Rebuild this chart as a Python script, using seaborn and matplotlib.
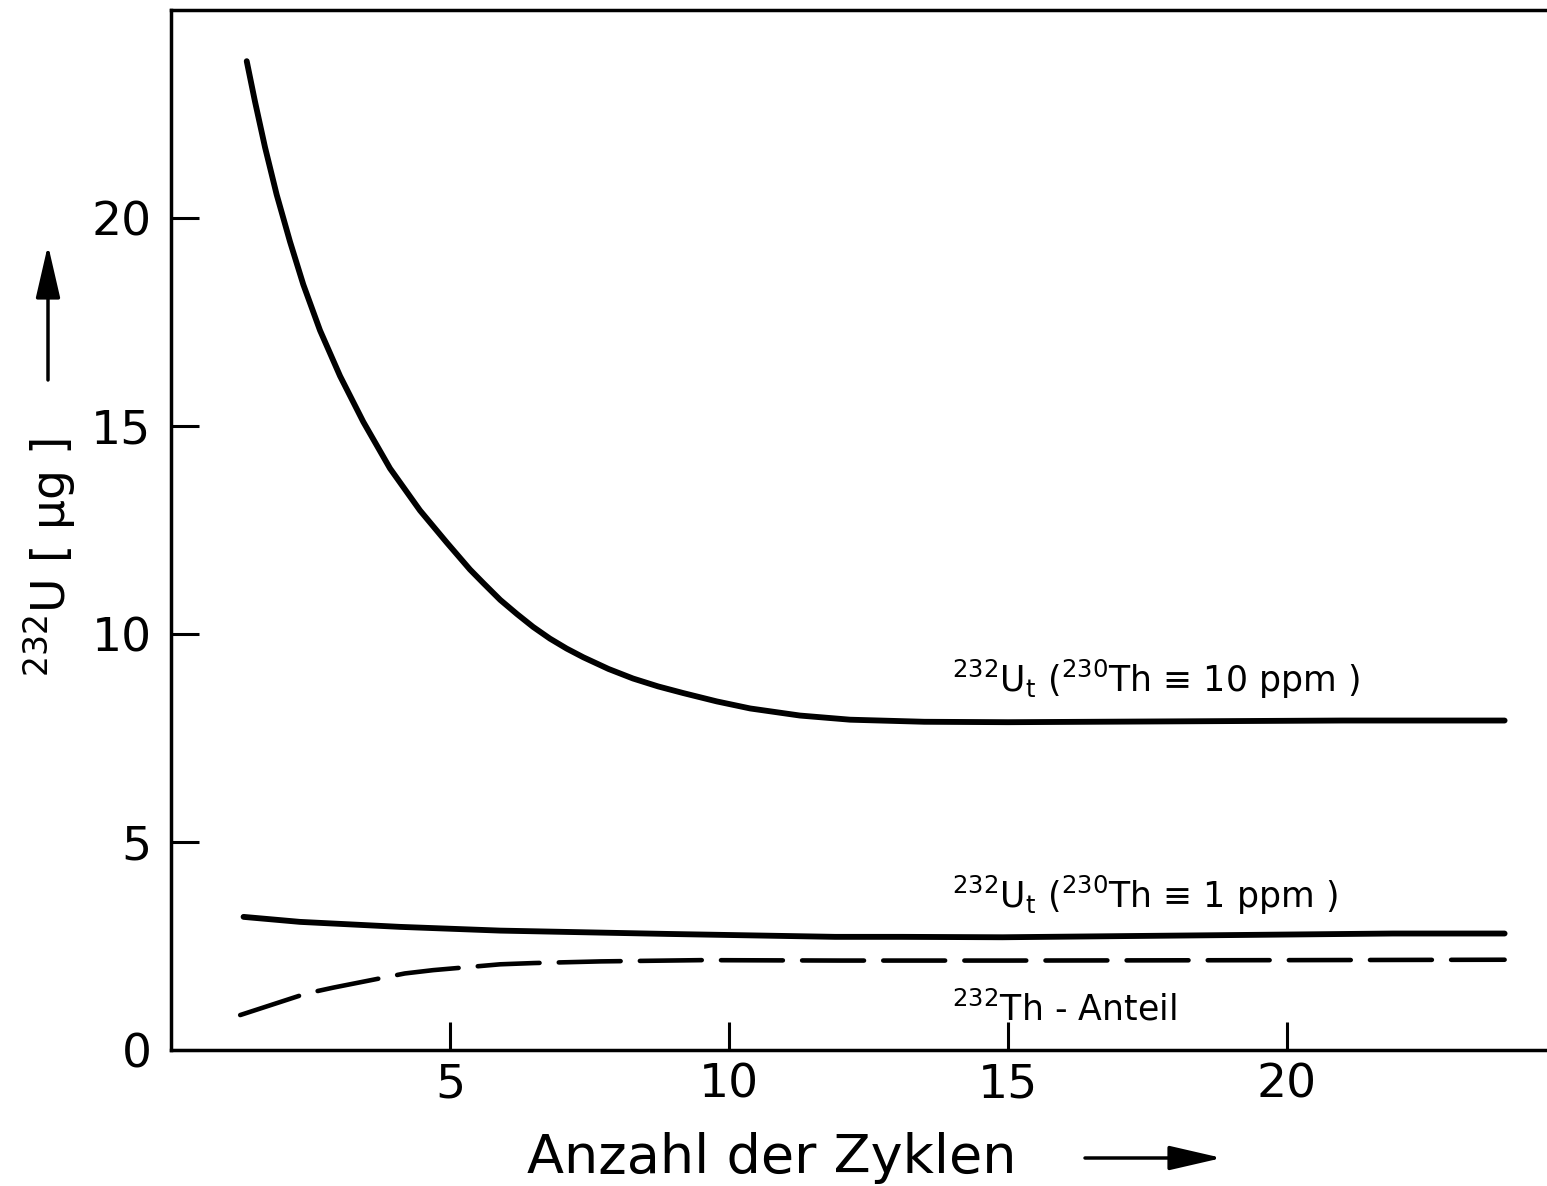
import matplotlib
matplotlib.use("Agg")
import matplotlib.pyplot as plt
import pandas as pd
import seaborn as sns

# curve: 232U_t for 230Th = 10 ppm
x_10ppm = [1.357, 1.505, 1.685, 1.894, 2.133, 2.371, 2.67, 3.03, 3.446, 3.925, 4.462,
           4.941, 5.358, 5.60, 5.90, 6.20, 6.49, 6.79, 7.09, 7.39, 7.84, 8.28, 8.73,
           9.18, 9.78, 10.38, 11.27, 12.17, 13.5, 15.0, 18.0, 21.0, 23.9]
y_10ppm = [23.77, 22.80, 21.70, 20.56, 19.43, 18.40, 17.30, 16.20, 15.10, 13.98, 12.97,
           12.20, 11.55, 11.22, 10.82, 10.48, 10.17, 9.89, 9.65, 9.44, 9.16, 8.93, 8.74,
           8.58, 8.38, 8.21, 8.04, 7.94, 7.89, 7.88, 7.90, 7.92, 7.92]

# 232U_t for 230Th = 1 ppm
x_1ppm = [1.30, 2.31, 4.10, 5.9, 8.9, 11.9, 13.1, 14.9, 18.0, 21.9, 23.9]
y_1ppm = [3.20, 3.08, 2.96, 2.87, 2.79, 2.72, 2.72, 2.71, 2.75, 2.80, 2.80]

# 232Th share (dashed)
x_th = [1.24, 2.43, 2.91, 4.19, 4.70, 5.9, 6.5, 7.7, 9.5, 12.0, 15.0, 20.0, 23.9]
y_th = [0.84, 1.36, 1.50, 1.84, 1.92, 2.06, 2.09, 2.13, 2.16, 2.15, 2.15, 2.16, 2.17]

x_ticks = [5, 10, 15, 20]
y_ticks = [0, 5, 10, 15, 20]

sns.set_style("ticks")
plt.rcParams['font.family'] = ['DejaVu Sans']
plt.rcParams['mathtext.fontset'] = 'dejavusans'
for key in ['text.color', 'axes.labelcolor', 'xtick.color', 'ytick.color']:
    plt.rcParams[key] = 'black'

W, H = 1547, 1186
fig = plt.figure(figsize=(W / 100, H / 100), dpi=100)
ax = fig.add_axes([171 / W, 1 - 1050 / H, (W - 171) / W, 1040 / H])

df_10 = pd.DataFrame({'x': x_10ppm, 'y': y_10ppm})
df_1 = pd.DataFrame({'x': x_1ppm, 'y': y_1ppm})
df_th = pd.DataFrame({'x': x_th, 'y': y_th})

sns.lineplot(data=df_10, x='x', y='y', ax=ax, color='black', linewidth=4.2,
             estimator=None, solid_capstyle='round', solid_joinstyle='round')
sns.lineplot(data=df_1, x='x', y='y', ax=ax, color='black', linewidth=4.2,
             estimator=None, solid_capstyle='round', solid_joinstyle='round')
sns.lineplot(data=df_th, x='x', y='y', ax=ax, color='black', linewidth=3.3,
             estimator=None, linestyle=(0, (13.5, 4.2)), dash_capstyle='round')

ax.set_xlim(0, (W - 171) / 55.8)
ax.set_ylim(0, 25)
ax.set_xticks(x_ticks)
ax.set_yticks(y_ticks)
ax.tick_params(direction='in', length=20, width=2.2, labelsize=34, color='black')
ax.tick_params(axis='y', pad=14)
ax.tick_params(axis='x', pad=9)
ax.spines['right'].set_visible(False)
for s in ['left', 'bottom', 'top']:
    ax.spines[s].set_linewidth(2.5)
    ax.spines[s].set_color('black')

ax.set_xlabel('Anzahl der Zyklen', fontsize=39, va='center')
ax.xaxis.set_label_coords((772 - 171) / (W - 171), (1050 - 1158) / 1040)
ax.set_ylabel(r'$^{232}$U [ µg ]', fontsize=34, va='center')
ax.yaxis.set_label_coords((50 - 171) / (W - 171), (1050 - 557) / 1040)

ax.text(14.0, 8.6, r'$^{232}$U$_\mathrm{t}$ ($^{230}$Th ≡ 10 ppm )', fontsize=25, va='baseline')
ax.text(14.0, 3.41, r'$^{232}$U$_\mathrm{t}$ ($^{230}$Th ≡ 1 ppm )', fontsize=25, va='baseline')
ax.text(14.0, 0.72, r'$^{232}$Th - Anteil', fontsize=25, va='baseline')

arrow = dict(arrowstyle='-|>,head_length=1.3,head_width=0.3', color='black',
             lw=2.5, mutation_scale=25, shrinkA=0, shrinkB=0)
fig.add_artist(matplotlib.patches.FancyArrowPatch(
    (1085 / W, 1 - 1158 / H), (1222 / W, 1 - 1158 / H),
    transform=fig.transFigure, **arrow))
fig.add_artist(matplotlib.patches.FancyArrowPatch(
    (48 / W, 1 - 380 / H), (48 / W, 1 - 245 / H),
    transform=fig.transFigure, **arrow))

fig.savefig('out.png', dpi=100)
